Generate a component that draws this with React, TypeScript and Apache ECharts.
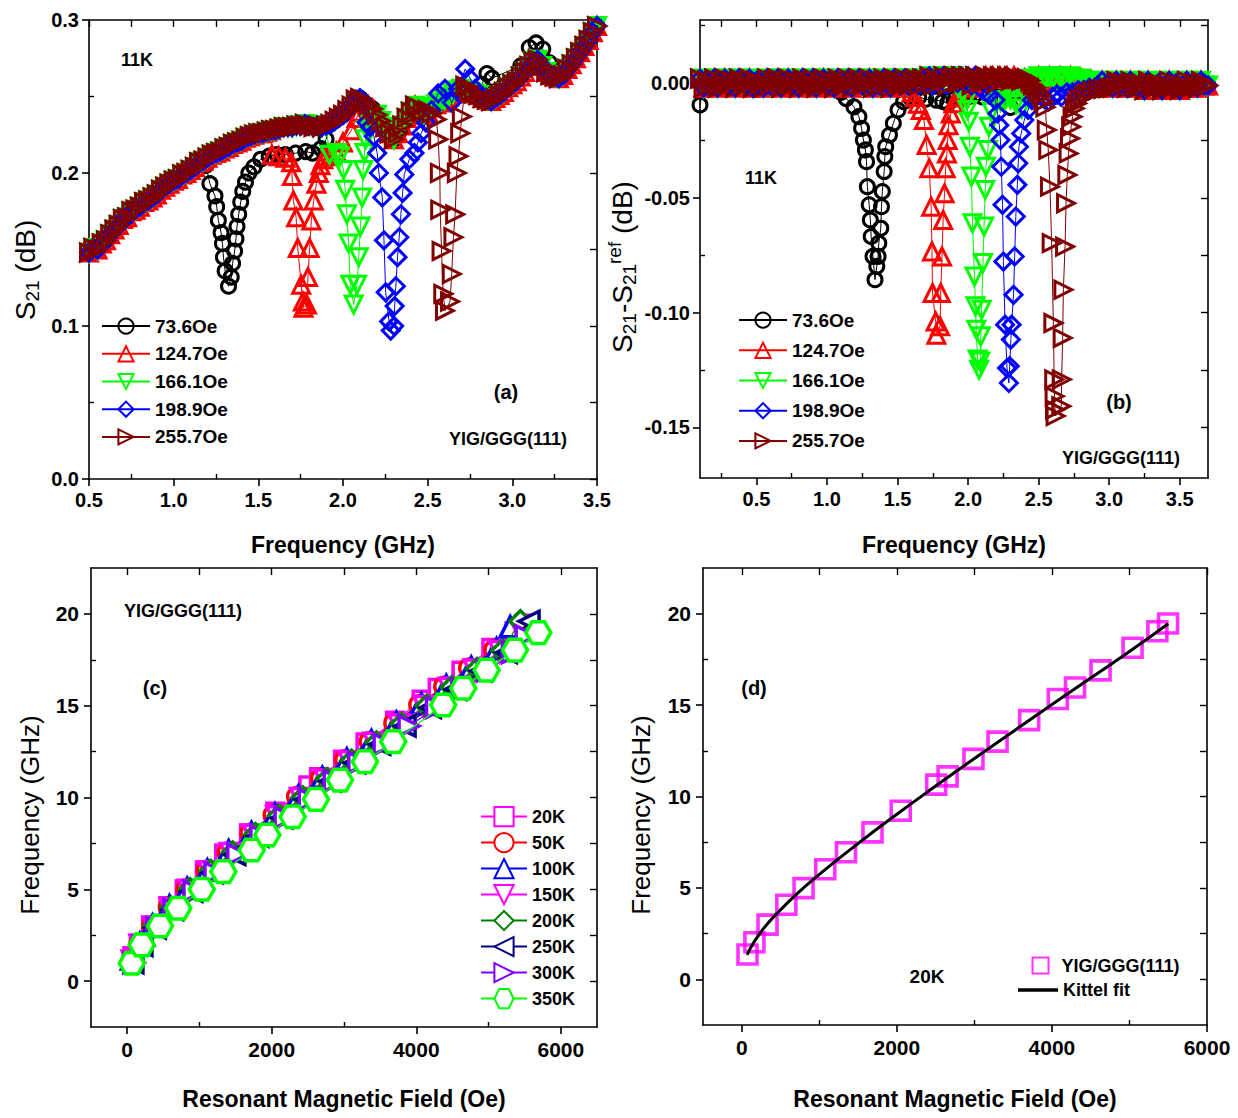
import React, { useEffect, useRef } from 'react';
import * as echarts from 'echarts';

const FONT = "'Liberation Sans', Arial, Helvetica, sans-serif";

// ---------------- Panel (a): S21 vs frequency, 11 K ----------------
const aFreqStart = 0.5;
const aFreqStep = 0.025;
// common background band (dB), one value per 0.025 GHz from 0.5 GHz
const aBaseline = [
  0.148, 0.151, 0.150, 0.154, 0.156, 0.160, 0.163, 0.166, 0.170, 0.171,
  0.175, 0.176, 0.178, 0.181, 0.182, 0.184, 0.186, 0.189, 0.191, 0.193,
  0.195, 0.196, 0.199, 0.200, 0.202, 0.204, 0.207, 0.208, 0.210, 0.212,
  0.213, 0.214, 0.216, 0.217, 0.219, 0.220, 0.221, 0.223, 0.224, 0.225,
  0.226, 0.226, 0.227, 0.228, 0.228, 0.229, 0.230, 0.230, 0.230, 0.231,
  0.231, 0.232, 0.231, 0.230, 0.231, 0.230, 0.231, 0.232, 0.234, 0.236,
  0.238, 0.241, 0.244, 0.248, 0.249, 0.246, 0.244, 0.242, 0.238, 0.234,
  0.230, 0.226, 0.222, 0.226, 0.231, 0.236, 0.240, 0.244, 0.242, 0.238,
  0.240, 0.243, 0.245, 0.246, 0.248, 0.250, 0.252, 0.254, 0.255, 0.254,
  0.253, 0.252, 0.251, 0.249, 0.248, 0.247, 0.249, 0.251, 0.253, 0.256,
  0.258, 0.260, 0.263, 0.266, 0.270, 0.273, 0.274, 0.270, 0.266, 0.264,
  0.263, 0.262, 0.264, 0.268, 0.271, 0.275, 0.279, 0.283, 0.287, 0.292,
  0.296,
];
const fieldNames = ['73.6Oe', '124.7Oe', '166.1Oe', '198.9Oe', '255.7Oe'];

const aDip736 = [
  [1.19, 0.205], [1.214, 0.193], [1.244, 0.185], [1.254, 0.178], [1.264, 0.169], [1.28, 0.161],
  [1.288, 0.154], [1.294, 0.145], [1.304, 0.136], [1.324, 0.126], [1.34, 0.132], [1.348, 0.141],
  [1.36, 0.149], [1.368, 0.157], [1.374, 0.165], [1.384, 0.173], [1.396, 0.181], [1.408, 0.188],
  [1.424, 0.194], [1.444, 0.2], [1.474, 0.204], [1.514, 0.209], [1.564, 0.211], [1.61, 0.212],
  [1.66, 0.212], [1.72, 0.213], [1.78, 0.214], [1.82, 0.213], [1.87, 0.216], [1.9, 0.222],
];
const aBump736 = [
  [2.82, 0.258], [2.85, 0.265], [2.88, 0.262], [3.05, 0.27], [3.1, 0.282], [3.14, 0.285], [3.18, 0.281], [3.22, 0.272],
];
const aDip1247 = [
  [1.58, 0.212], [1.62, 0.211], [1.66, 0.21], [1.694, 0.207], [1.699, 0.198], [1.707, 0.182],
  [1.723, 0.171], [1.733, 0.151], [1.753, 0.127], [1.763, 0.116], [1.767, 0.112], [1.787, 0.114],
  [1.793, 0.132], [1.803, 0.151], [1.813, 0.169], [1.827, 0.182], [1.843, 0.193], [1.857, 0.2],
  [1.867, 0.205], [1.883, 0.209], [1.9, 0.211], [1.93, 0.212], [1.96, 0.214], [2.0, 0.22],
  [2.05, 0.228], [2.08, 0.236], [2.1, 0.24],
];
const aDip1661 = [
  [1.92, 0.212], [1.963, 0.213], [1.983, 0.211], [2.003, 0.202], [2.013, 0.189], [2.023, 0.173],
  [2.033, 0.154], [2.043, 0.127], [2.063, 0.114], [2.083, 0.127], [2.093, 0.145], [2.103, 0.165],
  [2.113, 0.184], [2.119, 0.202], [2.127, 0.213], [2.133, 0.222], [2.14, 0.228], [2.16, 0.232], [2.18, 0.234],
];
const aDip1989 = [
  [2.14, 0.233], [2.16, 0.23], [2.182, 0.224], [2.202, 0.213], [2.212, 0.2], [2.232, 0.184],
  [2.242, 0.156], [2.252, 0.122], [2.272, 0.103], [2.282, 0.097], [2.302, 0.1], [2.305, 0.113],
  [2.312, 0.126], [2.322, 0.145], [2.332, 0.158], [2.342, 0.173], [2.352, 0.187], [2.362, 0.199],
  [2.392, 0.209], [2.422, 0.213], [2.442, 0.22], [2.462, 0.226], [2.49, 0.233], [2.522, 0.241],
  [2.562, 0.252], [2.602, 0.255], [2.642, 0.246], [2.68, 0.255], [2.722, 0.268], [2.75, 0.262], [2.78, 0.255],
];
const aDip2557 = [
  [2.44, 0.243], [2.47, 0.24], [2.5, 0.241], [2.522, 0.239], [2.552, 0.235], [2.562, 0.222],
  [2.572, 0.2], [2.574, 0.176], [2.582, 0.149], [2.592, 0.121], [2.602, 0.11], [2.632, 0.116],
  [2.642, 0.134], [2.652, 0.158], [2.662, 0.173], [2.672, 0.2], [2.682, 0.211], [2.692, 0.226],
  [2.702, 0.237], [2.722, 0.257], [2.74, 0.256],
];
const aSegments = [[aDip736, aBump736], [aDip1247], [aDip1661], [aDip1989], [aDip2557]];

// ---------------- Panel (b): S21 - S21ref, 11 K ----------------
const bFreqStart = 0.1;
const bFreqStep = 0.025;
const bBaseline = [
  0.002, -0.002, 0.001, -0.001, 0.002, -0.002, 0.0, 0.002, -0.001, 0.001,
  -0.002, 0.002, 0.0, -0.001, 0.002, -0.002, 0.001, 0.0, -0.002, 0.002,
  -0.001, 0.001, 0.002, -0.002, 0.0, 0.002, -0.001, 0.001, -0.002, 0.002,
  0.001, -0.001, 0.002, -0.002, 0.0, 0.002, -0.001, 0.001, -0.002, 0.002,
  0.0, -0.001, 0.002, -0.002, 0.001, 0.002, -0.001, 0.0, 0.002, -0.002,
  0.001, -0.001, 0.002, 0.0, -0.002, 0.002, 0.001, -0.001, 0.002, -0.001,
  0.001, 0.002, -0.001, 0.002, 0.0, 0.003, -0.001, 0.002, 0.001, 0.003,
  -0.001, 0.002, 0.003, 0.0, 0.003, 0.001, 0.003, -0.001, 0.003, 0.002,
  0.0, 0.003, 0.002, 0.003, 0.0, 0.003, 0.002, 0.003, 0.001, 0.003,
  0.002, 0.001, 0.002, 0.0, 0.002, 0.001, 0.003, 0.001, 0.002, 0.003,
  0.002, 0.001, 0.003, 0.002, 0.001, 0.003, 0.002, 0.0, 0.002, 0.001,
  -0.001, 0.001, 0.0, -0.002, 0.001, -0.001, 0.0, -0.002, 0.001, -0.001,
  0.0, -0.002, 0.001, -0.001, -0.002, 0.0, -0.003, 0.001, -0.001, -0.002,
  0.0, -0.003, -0.001, 0.001, -0.002, 0.0, -0.003, -0.001, 0.001, -0.002,
  0.0, -0.002, 0.001, -0.001, -0.001,
];
const bStart736 = [[0.1, -0.0095]];
const bDip736 = [
  [1.1, -0.004], [1.136, -0.0067], [1.191, -0.0103], [1.226, -0.0146], [1.245, -0.0197], [1.258, -0.0248],
  [1.272, -0.0291], [1.28, -0.0342], [1.286, -0.0451], [1.299, -0.053], [1.307, -0.0596], [1.313, -0.0668],
  [1.326, -0.0755], [1.34, -0.0856], [1.353, -0.0798], [1.362, -0.0755], [1.367, -0.0697], [1.381, -0.0632],
  [1.386, -0.0538], [1.392, -0.0472], [1.405, -0.0385], [1.41, -0.032], [1.416, -0.0277], [1.443, -0.0226],
  [1.47, -0.0175], [1.503, -0.0117], [1.543, -0.0081], [1.597, -0.0067], [1.65, -0.006], [1.7, -0.007],
  [1.774, -0.0074], [1.82, -0.008], [1.855, -0.0088], [1.9, -0.007], [1.95, -0.006], [2.0, -0.006],
  [2.05, -0.005], [2.1, -0.006], [2.15, -0.005], [2.2, -0.006], [2.25, -0.007], [2.3, -0.0106], [2.34, -0.004],
];
const bDip1247 = [
  [1.55, -0.001], [1.575, -0.002], [1.6, -0.004], [1.625, -0.006], [1.645, -0.009], [1.665, -0.0117],
  [1.687, -0.0161], [1.706, -0.0269], [1.725, -0.0371], [1.738, -0.0538], [1.744, -0.0733], [1.748, -0.0914],
  [1.77, -0.1038], [1.775, -0.1096], [1.801, -0.1059], [1.806, -0.0914], [1.815, -0.0755], [1.823, -0.0596],
  [1.833, -0.048], [1.841, -0.0371], [1.85, -0.0306], [1.855, -0.0248], [1.861, -0.0183], [1.877, -0.0132],
  [1.896, -0.0088], [1.936, -0.0062], [1.97, -0.004], [2.0, -0.002],
];
const bDip1661 = [
  [1.93, -0.002], [1.96, -0.004], [1.991, -0.0074], [1.996, -0.0117], [2.004, -0.0168], [2.012, -0.0277],
  [2.023, -0.0407], [2.031, -0.061], [2.045, -0.0842], [2.052, -0.0972], [2.058, -0.1074], [2.067, -0.1204],
  [2.078, -0.1248], [2.086, -0.1212], [2.09, -0.1103], [2.096, -0.0987], [2.105, -0.0784], [2.113, -0.0625],
  [2.121, -0.0465], [2.126, -0.0364], [2.14, -0.0291], [2.148, -0.019], [2.167, -0.0124], [2.194, -0.0088],
  [2.23, -0.008], [2.262, -0.0074], [2.3, -0.007], [2.34, -0.009], [2.38, -0.011], [2.41, -0.006], [2.44, 0.001],
];
const bDip1989 = [
  [2.1, -0.003], [2.15, -0.005], [2.194, -0.0074], [2.208, -0.0132], [2.221, -0.0183], [2.229, -0.0248],
  [2.235, -0.0364], [2.244, -0.053], [2.25, -0.0777], [2.262, -0.1052], [2.276, -0.1241], [2.289, -0.1306],
  [2.295, -0.1233], [2.303, -0.1117], [2.308, -0.1052], [2.322, -0.0922], [2.33, -0.0755], [2.338, -0.0581],
  [2.349, -0.0443], [2.355, -0.0349], [2.36, -0.0277], [2.376, -0.0219], [2.398, -0.0161], [2.425, -0.0117],
  [2.452, -0.0074], [2.48, -0.006], [2.51, -0.005], [2.54, -0.007], [2.57, -0.008], [2.6, -0.006],
  [2.63, -0.005], [2.66, -0.006], [2.7, -0.004], [2.74, -0.004], [2.78, -0.003], [2.82, -0.003],
  [2.86, -0.002], [2.9, -0.002],
];
const bDip2557 = [
  [2.42, 0.002], [2.44, 0.001], [2.46, -0.001], [2.48, -0.002], [2.5, -0.004], [2.52, -0.0055],
  [2.535, -0.008], [2.547, -0.0105], [2.557, -0.0204], [2.568, -0.0291], [2.58, -0.0451], [2.592, -0.0697],
  [2.604, -0.1045], [2.61, -0.1291], [2.613, -0.1364], [2.616, -0.1422], [2.62, -0.145], [2.66, -0.1407],
  [2.663, -0.1291], [2.67, -0.111], [2.675, -0.09], [2.687, -0.0712], [2.694, -0.0523], [2.703, -0.04],
  [2.712, -0.0306], [2.722, -0.0241], [2.73, -0.019], [2.74, -0.0146], [2.755, -0.011], [2.77, -0.0088],
  [2.79, -0.007], [2.82, -0.0055], [2.85, -0.0045], [2.88, -0.0035], [2.92, -0.003], [2.96, -0.0025], [3.0, -0.002],
];
const bSegments = [[bStart736, bDip736], [bDip1247], [bDip1661], [bDip1989], [bDip2557]];

// ---------------- Panel (c): resonance frequency vs field ----------------
const tempNames = ['20K', '50K', '100K', '150K', '200K', '250K', '300K', '350K'];
const c20K = [
  [74, 1.36], [163, 2.03], [332, 2.99], [575, 4.08], [797, 4.99], [1077, 6.02], [1344, 6.95],
  [1686, 8.04], [2050, 9.22], [2508, 10.65], [2655, 11.1], [2988, 12.06], [3299, 13.0], [3707, 14.18],
  [4076, 15.33], [4298, 15.96], [4627, 16.9], [5040, 18.14], [5360, 19.04], [5498, 19.46],
];
const c50K = [
  [55, 1.15], [165, 2.02], [340, 3.02], [570, 4.05], [815, 5.02], [1095, 6.03], [1385, 7.02],
  [1700, 8.05], [2020, 9.05], [2345, 10.05], [2675, 11.05], [3010, 12.05], [3350, 13.05], [3690, 14.05],
  [4035, 15.05], [4380, 16.05], [4725, 17.05], [5075, 18.05], [5420, 19.05],
];
const c100K = [
  [60, 1.2], [175, 2.05], [350, 3.05], [585, 4.1], [830, 5.05], [1110, 6.05], [1405, 7.1],
  [1720, 8.1], [2045, 9.1], [2370, 10.1], [2700, 11.1], [3040, 12.1], [3380, 13.1], [3725, 14.1],
  [4070, 15.1], [4415, 16.1], [4760, 17.1], [5110, 18.1], [5300, 19.3],
];
const c150K = [
  [70, 1.1], [180, 1.95], [360, 2.95], [595, 3.95], [850, 4.95], [1130, 5.95], [1430, 6.95],
  [1745, 7.95], [2070, 8.95], [2400, 9.95], [2735, 10.95], [3070, 11.95], [3415, 12.95], [3760, 13.95],
  [4105, 14.95], [4455, 15.95], [4800, 16.95], [5150, 17.95], [5470, 18.9],
];
const c200K = [
  [75, 1.1], [190, 2.0], [375, 3.0], [610, 4.0], [870, 5.0], [1155, 6.0], [1460, 7.0],
  [1775, 8.0], [2100, 9.0], [2430, 10.0], [2765, 11.0], [3105, 12.0], [3450, 13.0], [3795, 14.0],
  [4145, 15.0], [4490, 16.0], [4840, 17.0], [5190, 18.0], [5440, 19.6],
];
const c250K = [
  [80, 1.0], [205, 1.95], [390, 2.9], [630, 3.9], [895, 4.9], [1180, 5.9], [1490, 6.9],
  [1810, 7.9], [2140, 8.9], [2470, 9.9], [2810, 10.9], [3150, 11.9], [3495, 12.9], [3845, 13.9],
  [4195, 14.9], [4545, 15.9], [4895, 16.9], [5245, 17.9], [5560, 19.6],
];
const c300K = [
  [90, 1.0], [220, 1.9], [410, 2.9], [650, 3.9], [925, 4.9], [1215, 5.9], [1530, 6.9],
  [1850, 7.9], [2185, 8.9], [2520, 9.9], [2865, 10.9], [3205, 11.9], [3555, 12.9], [3900, 13.9],
  [4280, 14.9], [4630, 15.9], [4980, 16.9], [5330, 17.9], [5520, 18.8],
];
const c350K = [
  [64, 0.97], [202, 1.97], [455, 3.0], [708, 3.97], [1032, 5.0], [1331, 5.96], [1723, 7.14],
  [1939, 7.96], [2290, 8.95], [2613, 9.9], [2944, 10.95], [3290, 11.95], [3682, 13.04], [4373, 15.04],
  [4650, 15.95], [4973, 16.94], [5365, 18.03], [5688, 18.98],
];
const cData = [c20K, c50K, c100K, c150K, c200K, c250K, c300K, c350K];

// ---------------- Panel (d): 20 K data and Kittel fit ----------------
const d20K = c20K;
const dKittel = [
  [70, 1.34], [100, 1.61], [150, 1.99], [200, 2.31], [300, 2.88], [400, 3.36], [700, 4.63],
  [1000, 5.74], [1500, 7.43], [2000, 9.03], [2500, 10.57], [3000, 12.08], [3500, 13.56],
  [4000, 15.03], [4500, 16.48], [5000, 17.93], [5500, 19.45],
];

// ---------------- tick positions ----------------
const aXMajor = [0.5, 1.0, 1.5, 2.0, 2.5, 3.0, 3.5];
const aXMinor = [0.75, 1.25, 1.75, 2.25, 2.75, 3.25];
const aYMajor = [0, 0.1, 0.2, 0.3];
const aYMinor = [0.05, 0.15, 0.25];
const bXMajor = [0.5, 1.0, 1.5, 2.0, 2.5, 3.0, 3.5];
const bXMinor = [0.25, 0.75, 1.25, 1.75, 2.25, 2.75, 3.25];
const bYMajor = [-0.15, -0.1, -0.05, 0];
const bYMinor = [-0.125, -0.075, -0.025, 0.025];
const cXMajor = [0, 2000, 4000, 6000];
const cXMinor = [1000, 3000, 5000];
const cYMajor = [0, 5, 10, 15, 20];
const cYMinor = [2.5, 7.5, 12.5, 17.5];

function compose(start: number, step: number, base: number[], segs: number[][][]) {
  const pts: number[][] = [];
  base.forEach((y, i) => {
    const x = Math.round((start + i * step) * 10000) / 10000;
    const inside = segs.some((s) => x >= s[0][0] - 1e-6 && x <= s[s.length - 1][0] + 1e-6);
    if (!inside) pts.push([x, y]);
  });
  segs.forEach((s) => s.forEach((p) => pts.push(p)));
  pts.sort((p, q) => p[0] - q[0]);
  return pts;
}

const tickLabel = (size: number) => ({
  fontFamily: FONT,
  fontSize: size,
  fontWeight: 'bold',
  color: '#000',
});

function makeAxes(dim: 'x' | 'y', grid: number, cfg: any) {
  const line = { show: true, onZero: false, lineStyle: { color: '#000', width: 1.6 } };
  const all = cfg.major.concat(cfg.minor).sort((a: number, b: number) => a - b);
  const main: any = {
    type: 'value',
    gridIndex: grid,
    position: dim === 'x' ? 'bottom' : 'left',
    min: cfg.min,
    max: cfg.max,
    axisLine: line,
    axisTick: { show: true, inside: false, length: 7, customValues: cfg.major, lineStyle: { color: '#000', width: 1.6 } },
    axisLabel: {
      show: true,
      customValues: cfg.major,
      formatter: (v: number) => v.toFixed(cfg.digits),
      margin: cfg.margin,
      ...tickLabel(cfg.labelSize),
    },
    splitLine: { show: false },
    name: cfg.name || '',
    nameLocation: 'middle',
    nameGap: cfg.nameGap || 0,
    nameTextStyle: cfg.nameStyle,
  };
  const minor: any = {
    type: 'value',
    gridIndex: grid,
    position: dim === 'x' ? 'bottom' : 'left',
    min: cfg.min,
    max: cfg.max,
    axisLine: { show: false, onZero: false },
    axisTick: { show: true, inside: true, length: 5, customValues: cfg.minor, lineStyle: { color: '#000', width: 1.4 } },
    axisLabel: { show: false },
    splitLine: { show: false },
  };
  const opposite: any = {
    type: 'value',
    gridIndex: grid,
    position: dim === 'x' ? 'top' : 'right',
    min: cfg.min,
    max: cfg.max,
    axisLine: line,
    axisTick: { show: true, inside: true, length: 7, customValues: all, lineStyle: { color: '#000', width: 1.4 } },
    axisLabel: { show: false },
    splitLine: { show: false },
  };
  return [main, minor, opposite];
}

const xNameStyle = { fontFamily: FONT, fontSize: 23, fontWeight: 'bold', color: '#000', lineHeight: 28 };

const abStyles = [
  { color: '#000000', symbol: 'circle', rotate: 0, size: 14 },
  { color: '#ff0000', symbol: 'triangle', rotate: 0, size: 17 },
  { color: '#00ff00', symbol: 'triangle', rotate: 180, size: 17 },
  { color: '#0000ff', symbol: 'diamond', rotate: 0, size: 17 },
  { color: '#800000', symbol: 'triangle', rotate: -90, size: 17 },
];
const HEX = 'path://M-10,0L-5,-8.66L5,-8.66L10,0L5,8.66L-5,8.66Z';
const cStyles = [
  { color: '#ff00ff', symbol: 'rect', rotate: 0, size: 17 },
  { color: '#ff0000', symbol: 'circle', rotate: 0, size: 18 },
  { color: '#0000ff', symbol: 'triangle', rotate: 0, size: 20 },
  { color: '#ff00ff', symbol: 'triangle', rotate: 180, size: 20 },
  { color: '#008000', symbol: 'diamond', rotate: 0, size: 21 },
  { color: '#000080', symbol: 'triangle', rotate: 90, size: 20 },
  { color: '#8000ff', symbol: 'triangle', rotate: -90, size: 20 },
  { color: '#00ff00', symbol: HEX, rotate: 0, size: 25 },
];

function buildOption() {
  const grids = [
    { left: 89, top: 20, width: 508, height: 459 },
    { left: 700, top: 20, width: 508, height: 458 },
    { left: 91, top: 568, width: 506, height: 459 },
    { left: 703, top: 568, width: 504, height: 457 },
  ];

  const xAxes = [
    ...makeAxes('x', 0, { min: 0.5, max: 3.5, major: aXMajor, minor: aXMinor, digits: 1, margin: 11, labelSize: 20, name: 'Frequency (GHz)', nameGap: 52, nameStyle: xNameStyle }),
    ...makeAxes('x', 1, { min: 0.1, max: 3.7, major: bXMajor, minor: bXMinor, digits: 1, margin: 11, labelSize: 20, name: 'Frequency (GHz)', nameGap: 53, nameStyle: xNameStyle }),
    ...makeAxes('x', 2, { min: -500, max: 6500, major: cXMajor, minor: cXMinor, digits: 0, margin: 12, labelSize: 21, name: 'Resonant Magnetic Field (Oe)', nameGap: 58, nameStyle: xNameStyle }),
    ...makeAxes('x', 3, { min: -500, max: 6000, major: cXMajor, minor: cXMinor, digits: 0, margin: 12, labelSize: 21, name: 'Resonant Magnetic Field (Oe)', nameGap: 60, nameStyle: xNameStyle }),
  ];
  const yAxes = [
    ...makeAxes('y', 0, { min: 0, max: 0.3, major: aYMajor, minor: aYMinor, digits: 1, margin: 10, labelSize: 20 }),
    ...makeAxes('y', 1, { min: -0.172, max: 0.0275, major: bYMajor, minor: bYMinor, digits: 2, margin: 10, labelSize: 20 }),
    ...makeAxes('y', 2, { min: -2.5, max: 22.5, major: cYMajor, minor: cYMinor, digits: 0, margin: 12, labelSize: 21 }),
    ...makeAxes('y', 3, { min: -2.5, max: 22.5, major: cYMajor, minor: cYMinor, digits: 0, margin: 12, labelSize: 21 }),
  ];

  const series: any[] = [];
  fieldNames.forEach((name, i) => {
    const st = abStyles[i];
    series.push({
      type: 'line', name, xAxisIndex: 0, yAxisIndex: 0,
      data: compose(aFreqStart, aFreqStep, aBaseline, aSegments[i]),
      symbol: st.symbol, symbolSize: st.size, symbolRotate: st.rotate, showAllSymbol: true,
      lineStyle: { color: st.color, width: 1 },
      itemStyle: { color: 'none', borderColor: st.color, borderWidth: 3 },
      emphasis: { disabled: true }, silent: true, z: 2 + i,
    });
  });
  fieldNames.forEach((name, i) => {
    const st = abStyles[i];
    series.push({
      type: 'line', name, xAxisIndex: 3, yAxisIndex: 3,
      data: compose(bFreqStart, bFreqStep, bBaseline, bSegments[i]),
      symbol: st.symbol, symbolSize: st.size, symbolRotate: st.rotate, showAllSymbol: true,
      lineStyle: { color: st.color, width: 1 },
      itemStyle: { color: 'none', borderColor: st.color, borderWidth: 3 },
      emphasis: { disabled: true }, silent: true, z: 2 + i,
    });
  });
  tempNames.forEach((name, i) => {
    const st = cStyles[i];
    series.push({
      type: 'line', name, xAxisIndex: 6, yAxisIndex: 6,
      data: cData[i],
      symbol: st.symbol, symbolSize: st.size, symbolRotate: st.rotate, symbolKeepAspect: true, showAllSymbol: true,
      lineStyle: { color: st.color, width: 1.3 },
      itemStyle: { color: '#ffffff', borderColor: st.color, borderWidth: 3.5 },
      emphasis: { disabled: true }, silent: true, z: 2 + i,
    });
  });
  series.push({
    type: 'scatter', name: 'YIG/GGG(111)', xAxisIndex: 9, yAxisIndex: 9,
    data: d20K, symbol: 'rect', symbolSize: 19,
    itemStyle: { color: 'none', borderColor: '#ff00ff', borderWidth: 3.6 },
    emphasis: { disabled: true }, silent: true, z: 2,
  });
  series.push({
    type: 'line', name: 'Kittel fit', xAxisIndex: 9, yAxisIndex: 9,
    data: dKittel, smooth: true, symbol: 'none',
    lineStyle: { color: '#000', width: 3 },
    itemStyle: { color: '#000' },
    emphasis: { disabled: true }, silent: true, z: 3,
  });

  const legendText = (size: number) => ({ fontFamily: FONT, fontSize: size, fontWeight: 'bold', color: '#000' });
  const legends = [
    { data: fieldNames, left: 101, top: 316, orient: 'vertical', itemWidth: 48, itemHeight: 19, itemGap: 7.5, padding: 0, selectedMode: false, textStyle: legendText(19) },
    { data: fieldNames, left: 738, top: 310, orient: 'vertical', itemWidth: 48, itemHeight: 19, itemGap: 10, padding: 0, selectedMode: false, textStyle: legendText(19) },
    { data: tempNames, left: 480, top: 806, orient: 'vertical', itemWidth: 46, itemHeight: 24, itemGap: 4.8, padding: 0, selectedMode: false, textStyle: legendText(18) },
    { data: ['YIG/GGG(111)'], left: 1030, top: 955, orient: 'vertical', itemWidth: 16, itemHeight: 16, padding: 0, selectedMode: false, textStyle: { ...legendText(18), padding: [0, 0, 0, 8] } },
    { data: [{ name: 'Kittel fit', icon: 'rect' }], left: 1018, top: 981, orient: 'vertical', itemWidth: 40, itemHeight: 3.5, symbolKeepAspect: false, padding: 0, selectedMode: false, textStyle: legendText(18) },
  ];

  const txt = (text: string, x: number, y: number, size: number) => ({
    type: 'text', x, y, silent: true,
    style: { text, fontFamily: FONT, fontSize: size, fontWeight: 'bold', fill: '#000', align: 'center', verticalAlign: 'middle' },
  });
  const rich = (main: number, sub: number) => ({
    m: { fontFamily: FONT, fontSize: main, fill: '#000', lineHeight: main + 6 },
    s: { fontFamily: FONT, fontSize: sub, fill: '#000', lineHeight: main + 6, verticalAlign: 'bottom' },
    u: { fontFamily: FONT, fontSize: sub, fill: '#000', lineHeight: main + 6, verticalAlign: 'top' },
  });
  const yName = (text: string, x: number, y: number, main: number, sub: number) => ({
    type: 'text', x, y, rotation: Math.PI / 2, silent: true,
    style: { text, rich: rich(main, sub), fontFamily: FONT, fontSize: main, fill: '#000', align: 'center', verticalAlign: 'middle' },
  });
  const graphic = [
    txt('11K', 137, 60, 18),
    txt('(a)', 506, 392, 20),
    txt('YIG/GGG(111)', 508, 439, 18),
    txt('11K', 761, 178, 18),
    txt('(b)', 1119, 402, 20),
    txt('YIG/GGG(111)', 1121, 458, 18),
    txt('YIG/GGG(111)', 183, 611, 18),
    txt('(c)', 155, 688, 20),
    txt('(d)', 754, 688, 20),
    txt('20K', 927, 976, 19),
    yName('{m|S}{s|21}{m| (dB)}', 25, 270, 28, 19),
    yName('{m|S}{s|21}{m|-S}{s|21}{u|ref}{m| (dB)}', 622, 267, 28, 19),
    yName('{m|Frequency (GHz)}', 30, 815, 26, 18),
    yName('{m|Frequency (GHz)}', 641, 815, 26, 18),
  ];

  return {
    animation: false,
    backgroundColor: '#ffffff',
    grid: grids,
    xAxis: xAxes,
    yAxis: yAxes,
    legend: legends,
    series,
    graphic,
  };
}

export default function App() {
  const ref = useRef<HTMLDivElement>(null);
  useEffect(() => {
    document.body.style.margin = '0';
    if (!ref.current) return;
    const chart = echarts.init(ref.current, null, { renderer: 'svg' });
    chart.setOption(buildOption() as any);
    return () => chart.dispose();
  }, []);
  return <div ref={ref} style={{ width: 1238, height: 1118, background: '#fff' }} />;
}
